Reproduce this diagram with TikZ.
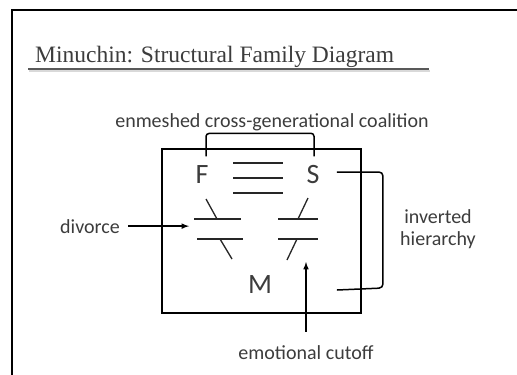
\documentclass[tikz,border=0pt]{standalone}
\usepackage{fontspec}
\setmainfont{Carlito}
\newfontfamily\titlefont{Liberation Serif}
\usetikzlibrary{calc}
\definecolor{txt}{RGB}{60,60,60}

\begin{document}
\begin{tikzpicture}[x=1pt,y=-1pt,
  lbl/.style={text=txt,font=\fontsize{20}{22}\selectfont},
  member/.style={text=txt,font=\fontsize{28}{30}\selectfont},
  bound/.style={line width=1.3pt,black!85}]
\useasboundingbox (0,0) rectangle (517,375);
\draw[line width=2pt] (12,375) -- (12,10) -- (517,10);

\draw node[anchor=base west,text=txt,inner sep=0] (title) at (35,62) {\titlefont\fontsize{23.5}{28}\selectfont Minuchin: Structural Family Diagram};
\draw[black!15,line width=2.5pt] ($ (title.base west)+(-6,9)$) -- ($ (title.base east)+(36,9)$);
\draw[black!65,line width=1.6pt] ($ (title.base west)+(-7,7)$) -- ($ (title.base east)+(35,7)$);

\draw node [draw,rectangle,minimum height=164pt,minimum width=199pt,line width=1.8pt](family) at (261.5,231){};

\draw node[member] (f) at (202,175){F};
\draw node[member] (s) at (313,175){S};
\draw node[member] (m) at (260,285){M};

\draw node[lbl,anchor=base] (coal) at (272,127){enmeshed cross-generational coalition};
\draw[line width=1.5pt,rounded corners=3pt] ($ (f.north)+(4,-6)$) -- ($ (f.north)+(4,-29)$) -- ($ (s.north)+(1,-29)$) -- ($ (s.north)+(1,-6)$);

\foreach \y in {163,178,193}
  \draw[bound] (233,\y) -- (283,\y);

\draw[bound] (194,219) -- (241,219);
\draw[bound] (206,199) -- (217,219);
\draw[bound] (197,239) -- (243,239);
\draw[bound] (220,239) -- (232,259);
\draw[bound] (278,219) -- (318,219);
\draw[bound] (308,198) -- (298,219);
\draw[bound] (278,239) -- (318,239);
\draw[bound] (297,239) -- (287,260);

\draw node[lbl,anchor=base] (divorce) at (90,233){divorce};
\coordinate (split) at (189,227);
\draw[-latex,line width=1.5pt,shorten <=5pt] (divorce.east) -- (divorce.east -| split);

\draw node[lbl,anchor=base] (cutoff) at (306,359){emotional cutoff};
\coordinate (gap) at (306,262);
\draw[-latex,line width=1.5pt,shorten <=10pt] (cutoff.north) -- (gap);

\draw node[lbl,align=center] (hier) at (438,229){inverted\\hierarchy};
\coordinate (top) at ($ (s.east)+(14,-3)$);
\coordinate (bottom) at ($ (top)+(0,118)$);
\draw[line width=1.5pt,rounded corners=4pt] (top) -- ($ (top)+(46,0)$) -- ($ (bottom)+(46,-2)$) -- (bottom);

\end{tikzpicture}
\end{document}
